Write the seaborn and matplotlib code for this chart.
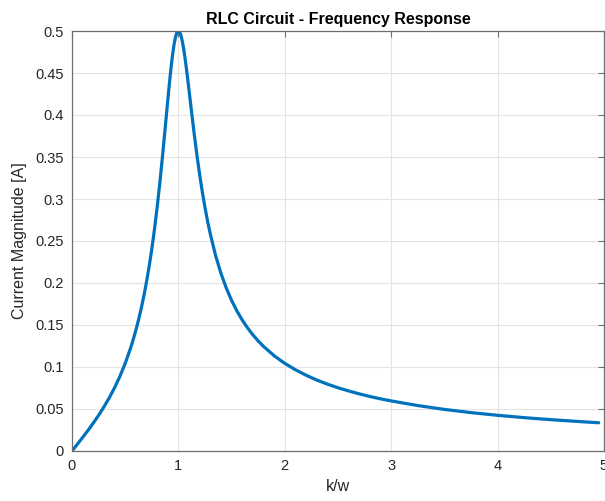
import matplotlib
matplotlib.use("Agg")
import matplotlib.pyplot as plt
import seaborn as sns
import pandas as pd

# Values
k_over_w = [0.0, 0.05, 0.1, 0.15, 0.2, 0.25, 0.3, 0.35, 0.4, 0.45, 0.5, 0.55, 0.575,
            0.6, 0.625, 0.65, 0.675, 0.7, 0.725, 0.75, 0.775, 0.8, 0.825, 0.85, 0.875,
            0.9, 0.91, 0.92, 0.93, 0.94, 0.95, 0.96, 0.97, 0.98, 0.99, 1.0, 1.01, 1.02,
            1.03, 1.04, 1.05, 1.06, 1.07, 1.08, 1.09, 1.1, 1.125, 1.15, 1.175, 1.2,
            1.225, 1.25, 1.275, 1.3, 1.35, 1.4, 1.45, 1.5, 1.55, 1.6, 1.65, 1.7, 1.75,
            1.8, 1.9, 2.0, 2.1, 2.2, 2.3, 2.4, 2.5, 2.6, 2.7, 2.8, 2.9, 3.0, 3.25, 3.5,
            3.75, 4.0, 4.25, 4.5, 4.75, 4.95]
current = [0.0, 0.0080, 0.0162, 0.0245, 0.0333, 0.0425, 0.0525, 0.0633, 0.0753, 0.0888,
           0.1043, 0.1223, 0.1325, 0.1437, 0.1559, 0.1694, 0.1844, 0.2011, 0.2197, 0.2405,
           0.2638, 0.2898, 0.3186, 0.3500, 0.3834, 0.4173, 0.4306, 0.4433, 0.4553, 0.4663,
           0.4761, 0.4845, 0.4912, 0.4961, 0.4990, 0.5000, 0.4990, 0.4962, 0.4917, 0.4856,
           0.4782, 0.4698, 0.4605, 0.4505, 0.4401, 0.4294, 0.4023, 0.3760, 0.3514, 0.3288,
           0.3083, 0.2898, 0.2731, 0.2582, 0.2325, 0.2114, 0.1940, 0.1792, 0.1667, 0.1559,
           0.1465, 0.1383, 0.1310, 0.1245, 0.1134, 0.1043, 0.0967, 0.0902, 0.0845, 0.0796,
           0.0753, 0.0715, 0.0680, 0.0649, 0.0621, 0.0596, 0.0541, 0.0495, 0.0457, 0.0425,
           0.0397, 0.0373, 0.0352, 0.0336]
x_ticks = [0, 1, 2, 3, 4, 5]
y_ticks = [0, 0.05, 0.1, 0.15, 0.2, 0.25, 0.3, 0.35, 0.4, 0.45, 0.5]
y_tick_labels = ["0", "0.05", "0.1", "0.15", "0.2", "0.25", "0.3", "0.35", "0.4", "0.45", "0.5"]

df = pd.DataFrame({"k/w": k_over_w, "I": current})

sns.set_theme(style="white")
plt.rcParams["font.family"] = ["Liberation Sans", "DejaVu Sans"]

fig = plt.figure(figsize=(6.05, 5.01), dpi=100)
ax = fig.add_axes([72 / 605, 50 / 501, 532 / 605, 420 / 501])

sns.lineplot(data=df, x="k/w", y="I", ax=ax, color="#0072BD", linewidth=2.3,
             estimator=None, sort=False)
for ln in ax.get_lines():
    ln.set_solid_joinstyle("round")

ax.set_xlim(0, 5)
ax.set_ylim(0, 0.5)
ax.set_xticks(x_ticks)
ax.set_xticklabels([str(t) for t in x_ticks])
ax.set_yticks(y_ticks)
ax.set_yticklabels(y_tick_labels)

ax.grid(True, color="#e3e3e3", linewidth=0.8)
ax.set_axisbelow(True)
for s in ax.spines.values():
    s.set_visible(True)
    s.set_color("#6e6e6e")
    s.set_linewidth(0.9)

ax.tick_params(axis="both", which="both", direction="in", length=4, width=0.8,
               color="#6e6e6e", labelsize=10.5, labelcolor="#262626",
               top=True, right=True, pad=6)

ax.set_xlabel("k/w", fontsize=11.5, color="#262626", labelpad=4)
ax.set_ylabel("Current Magnitude [A]", fontsize=11.5, color="#262626", labelpad=6)
ax.set_title("RLC Circuit - Frequency Response", fontsize=11.5, fontweight="bold",
             color="black", pad=5)

fig.savefig("out.png", dpi=100)
